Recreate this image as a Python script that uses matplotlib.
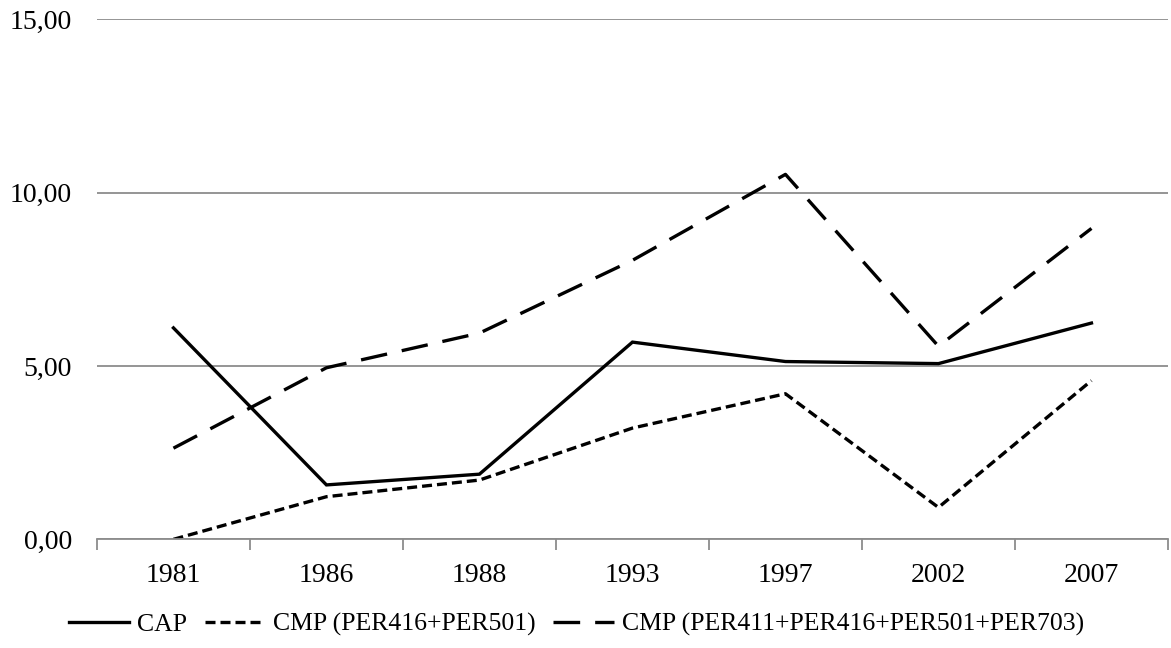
import matplotlib
matplotlib.use("Agg")
import matplotlib.pyplot as plt
from matplotlib.ticker import FixedLocator, FuncFormatter

years = ["1981", "1986", "1988", "1993", "1997", "2002", "2007"]
cap = [6.10, 1.57, 1.88, 5.69, 5.13, 5.07, 6.24]
cmp_2 = [0.00, 1.23, 1.71, 3.21, 4.20, 0.92, 4.58]
cmp_4 = [2.63, 4.95, 5.95, 8.05, 10.53, 5.57, 8.97]

plt.rcParams["font.family"] = ["Liberation Serif", "DejaVu Serif"]

fig = plt.figure(figsize=(11.71, 6.48), dpi=100)
ax = fig.add_axes([0.0828, 0.1677, 0.9146, 0.8023])

x = list(range(len(years)))
lw = 2.4
ax.plot(x, cap, color="black", lw=lw, solid_joinstyle="miter", label="CAP")
ax.plot(x, cmp_2, color="black", lw=lw, dashes=(3, 1.5), label="CMP (PER416+PER501)")
ax.plot(x, cmp_4, color="black", lw=lw, dashes=(8, 4.5), label="CMP (PER411+PER416+PER501+PER703)")

ax.set_xlim(-0.5, len(years) - 0.5)
ax.set_ylim(0, 15)
ax.set_xticks(x)
ax.set_xticklabels(years)
ax.xaxis.set_minor_locator(FixedLocator([i - 0.5 for i in range(len(years) + 1)]))
ax.tick_params(axis="x", which="major", length=0, pad=17, labelsize=20)
ax.tick_params(axis="x", which="minor", length=8, width=1.3, color="#8c8c8c")

ax.set_yticks([0, 5, 10, 15])
ax.yaxis.set_major_formatter(FuncFormatter(lambda v, p: f"{v:.2f}".replace(".", ",")))
ax.tick_params(axis="y", length=0, pad=18, labelsize=20)
ax.grid(axis="y", color="#8c8c8c", lw=1.3)
ax.set_axisbelow(True)

for s in ["top", "right", "left"]:
    ax.spines[s].set_visible(False)
ax.spines["bottom"].set_color("#8c8c8c")
ax.spines["bottom"].set_linewidth(1.3)

fig.legend(loc="center", bbox_to_anchor=(0.492, 0.036), ncol=3, frameon=False,
           fontsize=18.5, handlelength=2.35, handletextpad=0.3, columnspacing=0.7)

fig.savefig("out.png", dpi=100)
